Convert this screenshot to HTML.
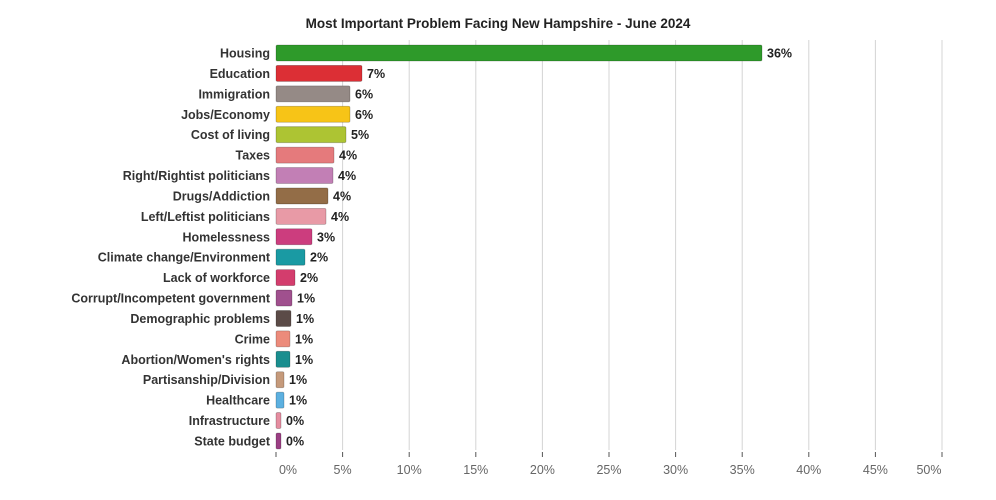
<!DOCTYPE html>
<html><head><meta charset="utf-8"><style>
body{margin:0;background:#fff;}
svg{display:block;font-family:"Liberation Sans",sans-serif;}
.l{font-size:12.5px;font-weight:bold;fill:#333;text-anchor:end}
.v{font-size:12.5px;font-weight:bold;fill:#222}
.t{font-size:12.5px;fill:#666;text-anchor:middle}
</style></head><body>
<svg width="996" height="500" viewBox="0 0 996 500">
<rect width="996" height="500" fill="#fff"/>
<text x="498" y="28" text-anchor="middle" font-size="13.5" font-weight="bold" fill="#222">Most Important Problem Facing New Hampshire - June 2024</text>
<g stroke="#d4d4d4" stroke-width="1">
<line x1="342.6" y1="40" x2="342.6" y2="450"/><line x1="409.2" y1="40" x2="409.2" y2="450"/><line x1="475.8" y1="40" x2="475.8" y2="450"/><line x1="542.4" y1="40" x2="542.4" y2="450"/><line x1="609" y1="40" x2="609" y2="450"/><line x1="675.6" y1="40" x2="675.6" y2="450"/><line x1="742.2" y1="40" x2="742.2" y2="450"/><line x1="808.8" y1="40" x2="808.8" y2="450"/><line x1="875.4" y1="40" x2="875.4" y2="450"/><line x1="942" y1="40" x2="942" y2="450"/>
</g>
<g stroke="#555" stroke-width="1">
<line x1="276" y1="452" x2="276" y2="457"/><line x1="342.6" y1="452" x2="342.6" y2="457"/><line x1="409.2" y1="452" x2="409.2" y2="457"/><line x1="475.8" y1="452" x2="475.8" y2="457"/><line x1="542.4" y1="452" x2="542.4" y2="457"/><line x1="609" y1="452" x2="609" y2="457"/><line x1="675.6" y1="452" x2="675.6" y2="457"/><line x1="742.2" y1="452" x2="742.2" y2="457"/><line x1="808.8" y1="452" x2="808.8" y2="457"/><line x1="875.4" y1="452" x2="875.4" y2="457"/><line x1="942" y1="452" x2="942" y2="457"/>
</g>
<g class="t">
<text x="288" y="474">0%</text><text x="342.6" y="474">5%</text><text x="409.2" y="474">10%</text><text x="475.8" y="474">15%</text><text x="542.4" y="474">20%</text><text x="609" y="474">25%</text><text x="675.6" y="474">30%</text><text x="742.2" y="474">35%</text><text x="808.8" y="474">40%</text><text x="875.4" y="474">45%</text><text x="929" y="474">50%</text>
</g>
<g id="bars"></g>
</svg>
<script>
var d=[["Housing",762,"#2e9a2a","36%"],["Education",362,"#dc2f35","7%"],["Immigration",350,"#958a86","6%"],["Jobs/Economy",350,"#f7c417","6%"],["Cost of living",346,"#adc433","5%"],["Taxes",334,"#e57a7c","4%"],["Right/Rightist politicians",333,"#c27fb5","4%"],["Drugs/Addiction",328,"#936d47","4%"],["Left/Leftist politicians",326,"#e89aa6","4%"],["Homelessness",312,"#cc3d7e","3%"],["Climate change/Environment",305,"#1a9aa3","2%"],["Lack of workforce",295,"#d33d6d","2%"],["Corrupt/Incompetent government",292,"#a0508e","1%"],["Demographic problems",291,"#5b4b47","1%"],["Crime",290,"#ec8b7b","1%"],["Abortion/Women's rights",290,"#1a8e8f","1%"],["Partisanship/Division",284,"#c59a7b","1%"],["Healthcare",284,"#5cb0e0","1%"],["Infrastructure",281,"#e58da0","0%"],["State budget",281,"#9b3f84","0%"]];
var g=document.getElementById("bars"),s="";
d.forEach(function(r,i){var c=53+i*20.42;
s+='<text class="l" x="270" y="'+(c+4.5)+'">'+r[0]+'</text>';
s+='<rect x="276" y="'+(c-8)+'" width="'+(r[1]-276)+'" height="16" rx="1.5" fill="'+r[2]+'" stroke="rgba(0,0,0,0.25)" stroke-width="0.8"/>';
s+='<text class="v" x="'+(r[1]+5)+'" y="'+(c+4.5)+'">'+r[3]+'</text>';});
g.innerHTML=s;
</script>
</body></html>
